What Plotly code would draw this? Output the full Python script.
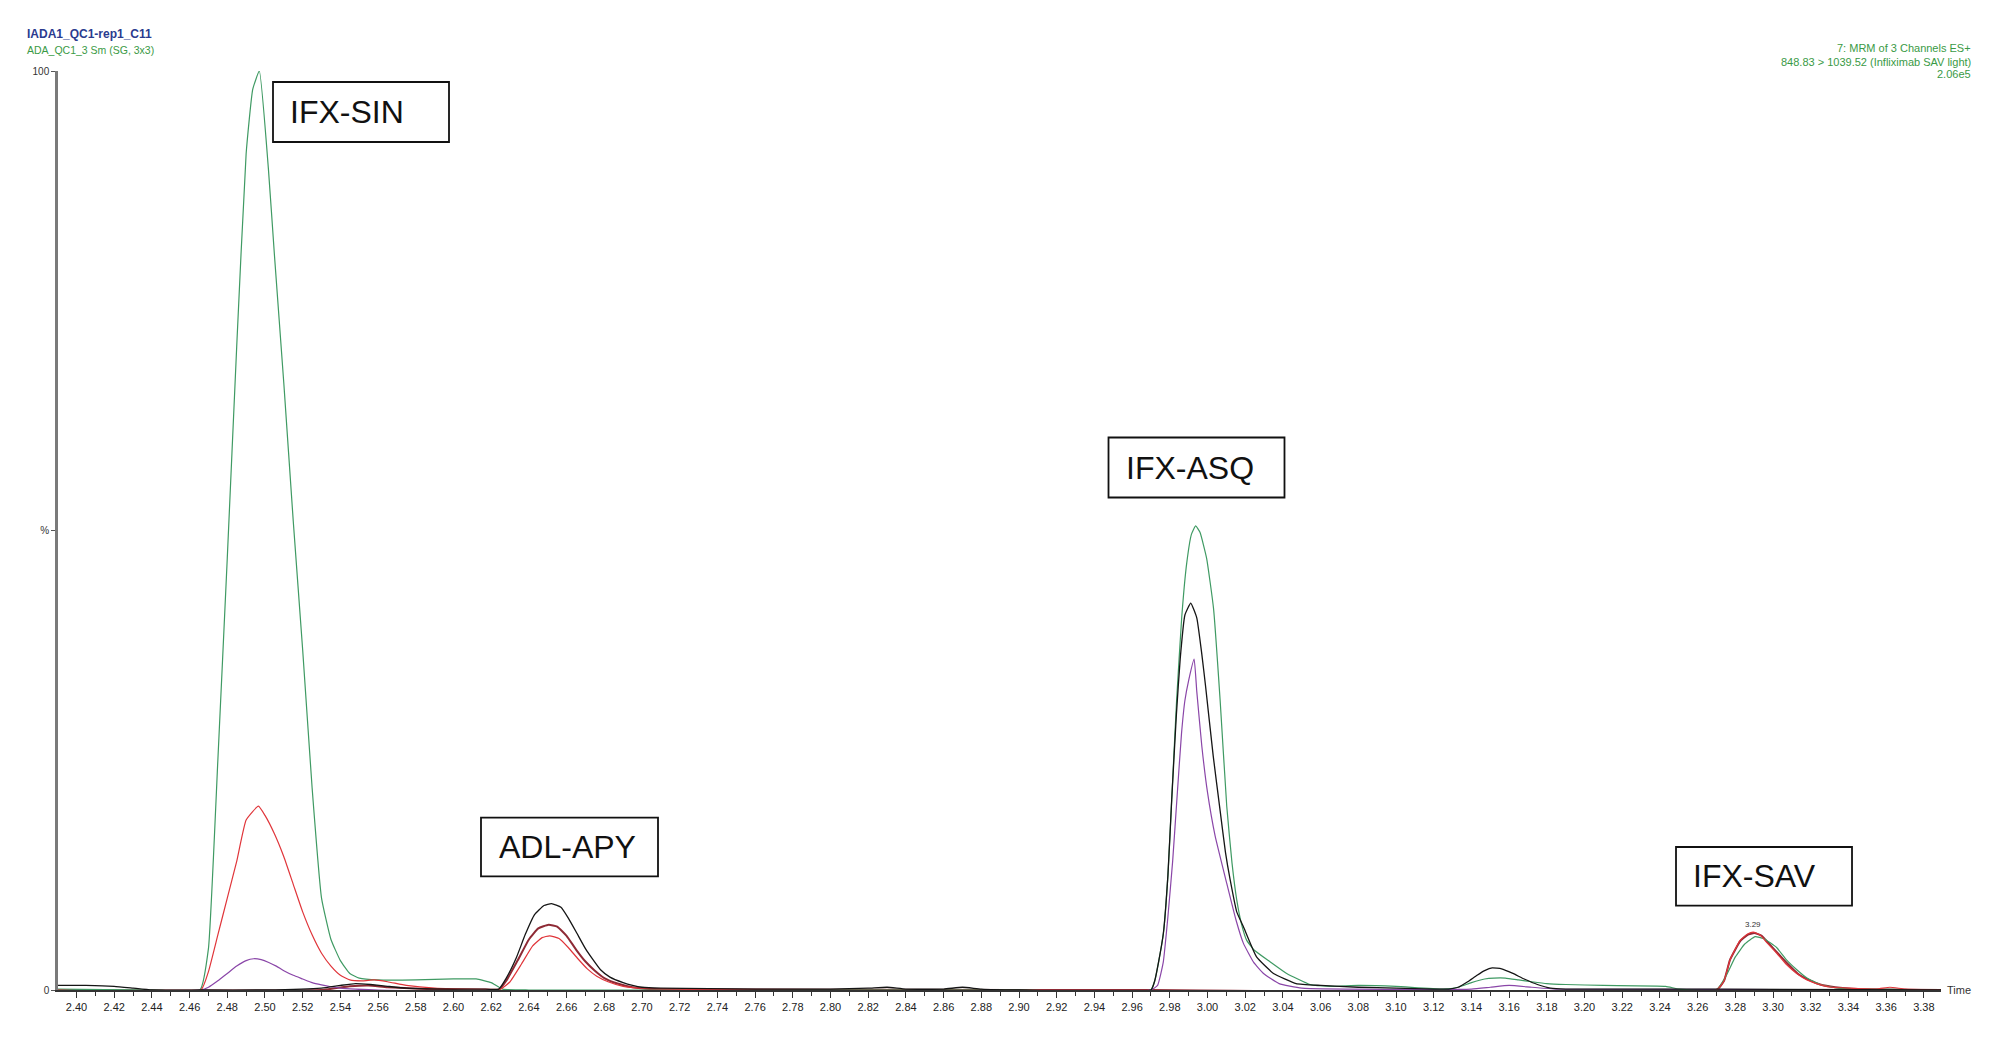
import plotly.graph_objects as go

# ---------------- data (time in min, relative intensity %) ----------------
green_t = [2.39, 2.44, 2.4655, 2.470, 2.475, 2.480, 2.485, 2.490, 2.4935, 2.497, 2.5018, 2.505, 2.510,
           2.515, 2.520, 2.525, 2.530, 2.535, 2.540, 2.545, 2.550, 2.560, 2.580, 2.600, 2.612, 2.620,
           2.626, 2.64, 2.70, 2.80, 2.90, 2.9700, 2.9720, 2.9740, 2.9766, 2.9790, 2.9810, 2.9836, 2.9863,
           2.9890, 2.9915, 2.9937, 2.9960, 2.9995, 3.0032, 3.0067, 3.0102, 3.0130, 3.0155, 3.0180, 3.0208,
           3.025, 3.033, 3.042, 3.0544, 3.065, 3.08, 3.10, 3.125, 3.133, 3.140, 3.147, 3.152, 3.158,
           3.165, 3.172, 3.180, 3.19, 3.21, 3.243, 3.25, 3.270, 3.275, 3.280, 3.285, 3.2905, 3.295,
           3.302, 3.307, 3.3126, 3.318, 3.325, 3.335, 3.39]
green_y = [0.1, 0.0, 0.0, 4.5, 25, 47, 70, 91, 98, 100, 89.4, 80, 66,
           51, 37, 22, 10, 5.5, 3.2, 1.8, 1.3, 1.1, 1.1, 1.2, 1.2, 0.8,
           0.1, 0.0, 0.0, 0.0, 0.0, 0.0, 1.0, 3.0, 6.2, 12.5, 20.7, 31.5, 40.5,
           46.5, 49.6, 50.5, 49.8, 47.0, 41.5, 31.5, 20.0, 13.8, 9.8, 7.2, 5.4,
           4.3, 3.1, 1.8, 0.6, 0.4, 0.5, 0.4, 0.1, 0.3, 0.8, 1.2, 1.3, 1.3,
           1.1, 0.9, 0.7, 0.6, 0.5, 0.4, 0.1, 0.0, 1.5, 3.6, 5.0, 5.8, 5.6,
           4.6, 3.3, 2.2, 1.3, 0.6, 0.2, 0.0]

black_t = [2.39, 2.405, 2.42, 2.43, 2.44, 2.466, 2.50, 2.53, 2.54, 2.548, 2.556, 2.565, 2.575, 2.60,
           2.615, 2.624, 2.628, 2.6335, 2.638, 2.643, 2.648, 2.652, 2.657, 2.661, 2.6654, 2.670, 2.674,
           2.678, 2.683, 2.690, 2.695, 2.70, 2.71, 2.76, 2.80, 2.82, 2.83, 2.84, 2.86, 2.87, 2.88, 2.90,
           2.9700, 2.9720, 2.9740, 2.9766, 2.9790, 2.9810, 2.9835, 2.9855, 2.9880, 2.9911, 2.9943, 2.9970,
           2.9990, 3.0030, 3.0067, 3.0095, 3.0120, 3.0155, 3.0190, 3.026, 3.035, 3.047, 3.06, 3.08, 3.10,
           3.12, 3.128, 3.133, 3.138, 3.143, 3.147, 3.151, 3.156, 3.162, 3.168, 3.175, 3.182, 3.19, 3.27, 3.39]
black_y = [0.5, 0.5, 0.4, 0.2, 0.0, 0.0, 0.0, 0.2, 0.5, 0.7, 0.6, 0.4, 0.2, 0.1,
           0.1, 0.1, 1.3, 3.6, 6.0, 8.2, 9.2, 9.4, 9.0, 7.8, 6.2, 4.5, 3.3,
           2.2, 1.4, 0.8, 0.5, 0.3, 0.2, 0.1, 0.1, 0.2, 0.3, 0.1, 0.1, 0.3, 0.1, 0.0,
           0.0, 1.0, 3.0, 6.2, 12.5, 20.7, 30.0, 36.0, 40.8, 42.1, 40.5, 36.5,
           33.0, 25.5, 19.5, 15.0, 12.0, 8.5, 6.9, 3.6, 1.8, 0.7, 0.5, 0.3, 0.2,
           0.1, 0.1, 0.3, 0.9, 1.6, 2.1, 2.4, 2.3, 1.8, 1.2, 0.6, 0.2, 0.1, 0.1, 0.0]

red_t = [2.39, 2.466, 2.470, 2.475, 2.480, 2.485, 2.490, 2.4965, 2.500, 2.505, 2.510, 2.515, 2.520,
         2.525, 2.530, 2.535, 2.540, 2.545, 2.552, 2.558, 2.565, 2.575, 2.59, 2.615, 2.625, 2.630,
         2.636, 2.642, 2.647, 2.651, 2.656, 2.661, 2.666, 2.671, 2.676, 2.682, 2.690, 2.70, 2.72,
         3.27, 3.274, 3.2772, 3.2825, 3.2865, 3.2895, 3.293, 3.297, 3.302, 3.307, 3.3126, 3.318,
         3.323, 3.331, 3.34, 3.355, 3.362, 3.37, 3.39]
red_y = [0.0, 0.0, 2.0, 6.0, 10.0, 14.0, 18.5, 20.0, 19.0, 17.0, 14.5, 11.5, 8.5,
         6.0, 4.0, 2.6, 1.6, 1.1, 1.0, 1.1, 0.9, 0.5, 0.2, 0.1, 0.1, 0.9,
         2.8, 4.8, 5.7, 5.9, 5.6, 4.6, 3.4, 2.3, 1.5, 0.9, 0.4, 0.2, 0.1,
         0.0, 1.0, 3.3, 5.4, 6.1, 6.3, 6.0, 5.1, 4.0, 2.8, 1.8, 1.1,
         0.7, 0.3, 0.2, 0.1, 0.3, 0.1, 0.0]

maroon_t = [2.39, 2.53, 2.545, 2.555, 2.565, 2.60, 2.624, 2.628, 2.634, 2.640, 2.645, 2.6505, 2.655,
            2.660, 2.665, 2.670, 2.675, 2.680, 2.687, 2.695, 2.705, 2.90, 2.97, 3.27, 3.274, 3.2772,
            3.2825, 3.2865, 3.290, 3.294, 3.298, 3.303, 3.308, 3.313, 3.319, 3.325, 3.333, 3.345, 3.39]
maroon_y = [0.0, 0.0, 0.4, 0.5, 0.3, 0.0, 0.0, 1.0, 3.2, 5.5, 6.7, 7.1, 6.9,
            5.9, 4.4, 3.1, 2.1, 1.3, 0.7, 0.3, 0.1, 0.0, 0.0, 0.0, 1.0, 3.3,
            5.3, 6.0, 6.2, 5.9, 5.0, 3.9, 2.8, 1.8, 1.1, 0.6, 0.3, 0.1, 0.0]

purple_t = [2.39, 2.466, 2.470, 2.475, 2.480, 2.485, 2.490, 2.494, 2.498, 2.502, 2.506, 2.510, 2.515,
            2.520, 2.525, 2.530, 2.535, 2.540, 2.548, 2.56, 2.9700, 2.9735, 2.9765, 2.9790, 2.9815,
            2.9840, 2.9862, 2.9880, 2.9900, 2.9929, 2.9943, 2.9970, 3.0000, 3.0040, 3.0102, 3.0150,
            3.0190, 3.0245, 3.0297, 3.038, 3.05, 3.14, 3.15, 3.16, 3.172, 3.185, 3.39]
purple_y = [0.0, 0.0, 0.3, 1.0, 1.8, 2.6, 3.2, 3.4, 3.3, 3.0, 2.6, 2.1, 1.6,
            1.2, 0.8, 0.55, 0.35, 0.2, 0.1, 0.0, 0.0, 0.5, 3.0, 8.0, 14.0,
            21.5, 27.9, 31.5, 33.7, 36.0, 32.5, 26.5, 21.5, 16.8, 11.6, 7.7,
            5.1, 3.0, 1.8, 0.7, 0.2, 0.1, 0.3, 0.5, 0.3, 0.1, 0.0]

peak_labels = ["IFX-SIN", "ADL-APY", "IFX-ASQ", "IFX-SAV"]
x_ticks = [round(2.40 + 0.02 * i, 2) for i in range(50)]
y_ticks = [0, 50, 100]
y_tick_text = ["0", "%", "100"]
apex_label_time = 3.2895
apex_label_value = 6.3

FONT = "Liberation Sans, Arial, sans-serif"

# ---------------- figure ----------------
fig = go.Figure()
traces = [
    ("maroon", maroon_t, maroon_y, "#8e2a35", 2.0),
    ("purple", purple_t, purple_y, "#8a46a8", 1.2),
    ("green", green_t, green_y, "#3f9a63", 1.2),
    ("red", red_t, red_y, "#e0353a", 1.2),
    ("black", black_t, black_y, "#151515", 1.3),
]
for name, tx, ty, col, w in traces:
    fig.add_trace(go.Scatter(x=tx, y=ty, mode="lines", name=name,
                             line=dict(color=col, width=w, shape="spline", smoothing=0.4),
                             hoverinfo="skip"))

fig.update_layout(
    width=1984, height=1028,
    margin=dict(l=50, r=51, t=63, b=46),
    paper_bgcolor="white", plot_bgcolor="white",
    showlegend=False,
    xaxis=dict(range=[2.3902, 3.3891], tickmode="array", tickvals=x_ticks,
               ticktext=[f"{v:.2f}" for v in x_ticks], ticks="outside", ticklen=6,
               tickcolor="#333", tickwidth=1, showgrid=False, zeroline=False,
               showline=True, linecolor="#333", linewidth=1.5,
               tickfont=dict(family=FONT, size=11, color="#222"),
               minor=dict(dtick=0.01, tick0=2.40, ticks="outside", ticklen=4,
                          tickcolor="#333", showgrid=False)),
    yaxis=dict(range=[0, 100], tickmode="array", tickvals=y_ticks, ticktext=y_tick_text,
               ticks="outside", ticklen=4, tickcolor="#555", showgrid=False, zeroline=False,
               showline=True, linecolor="#7a7a7a", linewidth=2.5,
               tickfont=dict(family=FONT, size=10, color="#333")),
)

# peak name boxes (paper coordinates): (x0, x1, y0, y1, text_x, text_y)
box_pos = {"IFX-SIN": (0.11418, 0.20765, 0.92274, 0.98803, 0.12215, 0.95539),
           "ADL-APY": (0.22464, 0.31864, 0.12372, 0.18759, 0.23314, 0.15560),
           "IFX-ASQ": (0.55789, 0.65135, 0.53591, 0.60120, 0.56612, 0.56855),
           "IFX-SAV": (0.85927, 0.95274, 0.09184, 0.15560, 0.86723, 0.12372)}
for lab in peak_labels:
    x0, x1, y0, y1, tx, ty = box_pos[lab]
    fig.add_shape(type="rect", xref="paper", yref="paper", x0=x0, x1=x1, y0=y0, y1=y1,
                  line=dict(color="#111", width=1.8), fillcolor="white", layer="above")
    fig.add_annotation(x=tx, y=ty, xref="paper", yref="paper", text=lab, showarrow=False,
                       xanchor="left", yanchor="middle",
                       font=dict(family=FONT, size=32, color="#111"))

# apex label
fig.add_annotation(x=apex_label_time, y=apex_label_value, text="3.29", showarrow=False,
                   yanchor="bottom", yshift=1,
                   font=dict(family=FONT, size=8, color="#333"))

# header texts
fig.add_annotation(x=-0.0175, y=1.0403, xref="paper", yref="paper", text="<b>IADA1_QC1-rep1_C11</b>",
                   showarrow=False, xanchor="left", yanchor="middle",
                   font=dict(family=FONT, size=12, color="#2b3b8f"))
fig.add_annotation(x=-0.0175, y=1.0229, xref="paper", yref="paper", text="ADA_QC1_3 Sm (SG, 3x3)",
                   showarrow=False, xanchor="left", yanchor="middle",
                   font=dict(family=FONT, size=10.5, color="#3a9a45"))
right_lines = ["7: MRM of 3 Channels ES+", "848.83 > 1039.52 (Infliximab SAV light)", "2.06e5"]
for txt, yy in zip(right_lines, [1.0247, 1.0095, 0.9967]):
    fig.add_annotation(x=1.017, y=yy, xref="paper", yref="paper", text=txt, showarrow=False,
                       xanchor="right", yanchor="middle",
                       font=dict(family=FONT, size=11, color="#3a9a45"))
fig.add_annotation(x=1.0, y=0, xref="paper", yref="paper", text="Time", showarrow=False,
                   xanchor="left", yanchor="middle", xshift=4,
                   font=dict(family=FONT, size=11, color="#333"))

fig.write_html("out.html")
